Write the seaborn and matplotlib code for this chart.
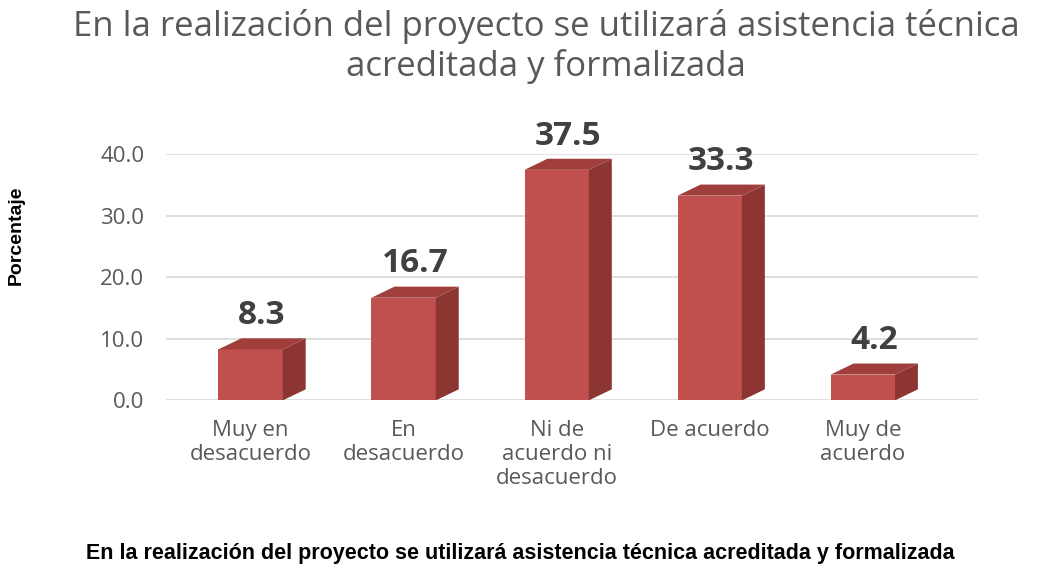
import matplotlib
matplotlib.use("Agg")
import matplotlib.pyplot as plt
import seaborn as sns
import pandas as pd
from matplotlib.patches import Polygon

# datos
categorias = ["Muy en\ndesacuerdo", "En\ndesacuerdo", "Ni de\nacuerdo ni\ndesacuerdo",
              "De acuerdo", "Muy de\nacuerdo"]
porcentajes = [8.3, 16.7, 37.5, 33.3, 4.2]
titulo = "En la realización del proyecto se utilizará asistencia técnica\nacreditada y formalizada"
eje_x = "En la realización del proyecto se utilizará asistencia técnica acreditada y formalizada"
eje_y = "Porcentaje"

df = pd.DataFrame({"categoria": categorias, "valor": porcentajes})

sns.set_theme(style="white")
plt.rcParams["font.family"] = ["Open Sans", "DejaVu Sans"]

fig = plt.figure(figsize=(10.4, 5.72), dpi=100)
ax = fig.add_axes([0.16, 0.30, 0.78, 0.43])

sns.barplot(data=df, x="categoria", y="valor", color="#C0504D", saturation=1,
            width=0.42, ax=ax, zorder=3, edgecolor="none", linewidth=0)

# efecto 3D sencillo a partir de las barras dibujadas
dx, dy = 0.15, 1.8
for p in ax.patches:
    x0, x1 = p.get_x(), p.get_x() + p.get_width()
    h = p.get_height()
    lado = Polygon([(x1, 0), (x1 + dx, dy), (x1 + dx, h + dy), (x1, h)],
                   closed=True, facecolor="#8C3533", edgecolor="none", zorder=3)
    tapa = Polygon([(x0, h), (x1, h), (x1 + dx, h + dy), (x0 + dx, h + dy)],
                   closed=True, facecolor="#A03E3B", edgecolor="none", zorder=3)
    ax.add_patch(lado)
    ax.add_patch(tapa)
    ax.text(p.get_x() + p.get_width() / 2 + dx / 2, h + dy + 1.0, f"{h:.1f}",
            ha="center", va="bottom", fontsize=24, fontweight="bold",
            color="#404040", zorder=4)

ax.set_ylim(0, 40)
ax.set_yticks([0, 10, 20, 30, 40])
ax.set_yticklabels([f"{v:.1f}" for v in [0, 10, 20, 30, 40]], fontsize=16, color="#595959")
ax.yaxis.grid(True, color="#D9D9D9", linewidth=1.2, zorder=0)
ax.set_xlim(-0.55, 4.75)
ax.tick_params(axis="x", length=0, pad=14, labelsize=16, labelcolor="#595959")
ax.tick_params(axis="y", length=0, pad=16)
for s in ax.spines.values():
    s.set_visible(False)

ax.set_xlabel("")
ax.set_ylabel(eje_y, fontsize=14, fontweight="bold", color="black",
              family=["Liberation Sans", "DejaVu Sans"])
ax.yaxis.set_label_coords(-0.175, 0.67)
fig.text(0.5, 0.033, eje_x, ha="center", va="center", fontsize=15.5,
         fontweight="bold", color="black", family=["Liberation Sans", "DejaVu Sans"])
fig.suptitle(titulo, fontsize=25, color="#595959", x=0.525, y=0.985, linespacing=1.2)

fig.savefig("out.png", dpi=100)
